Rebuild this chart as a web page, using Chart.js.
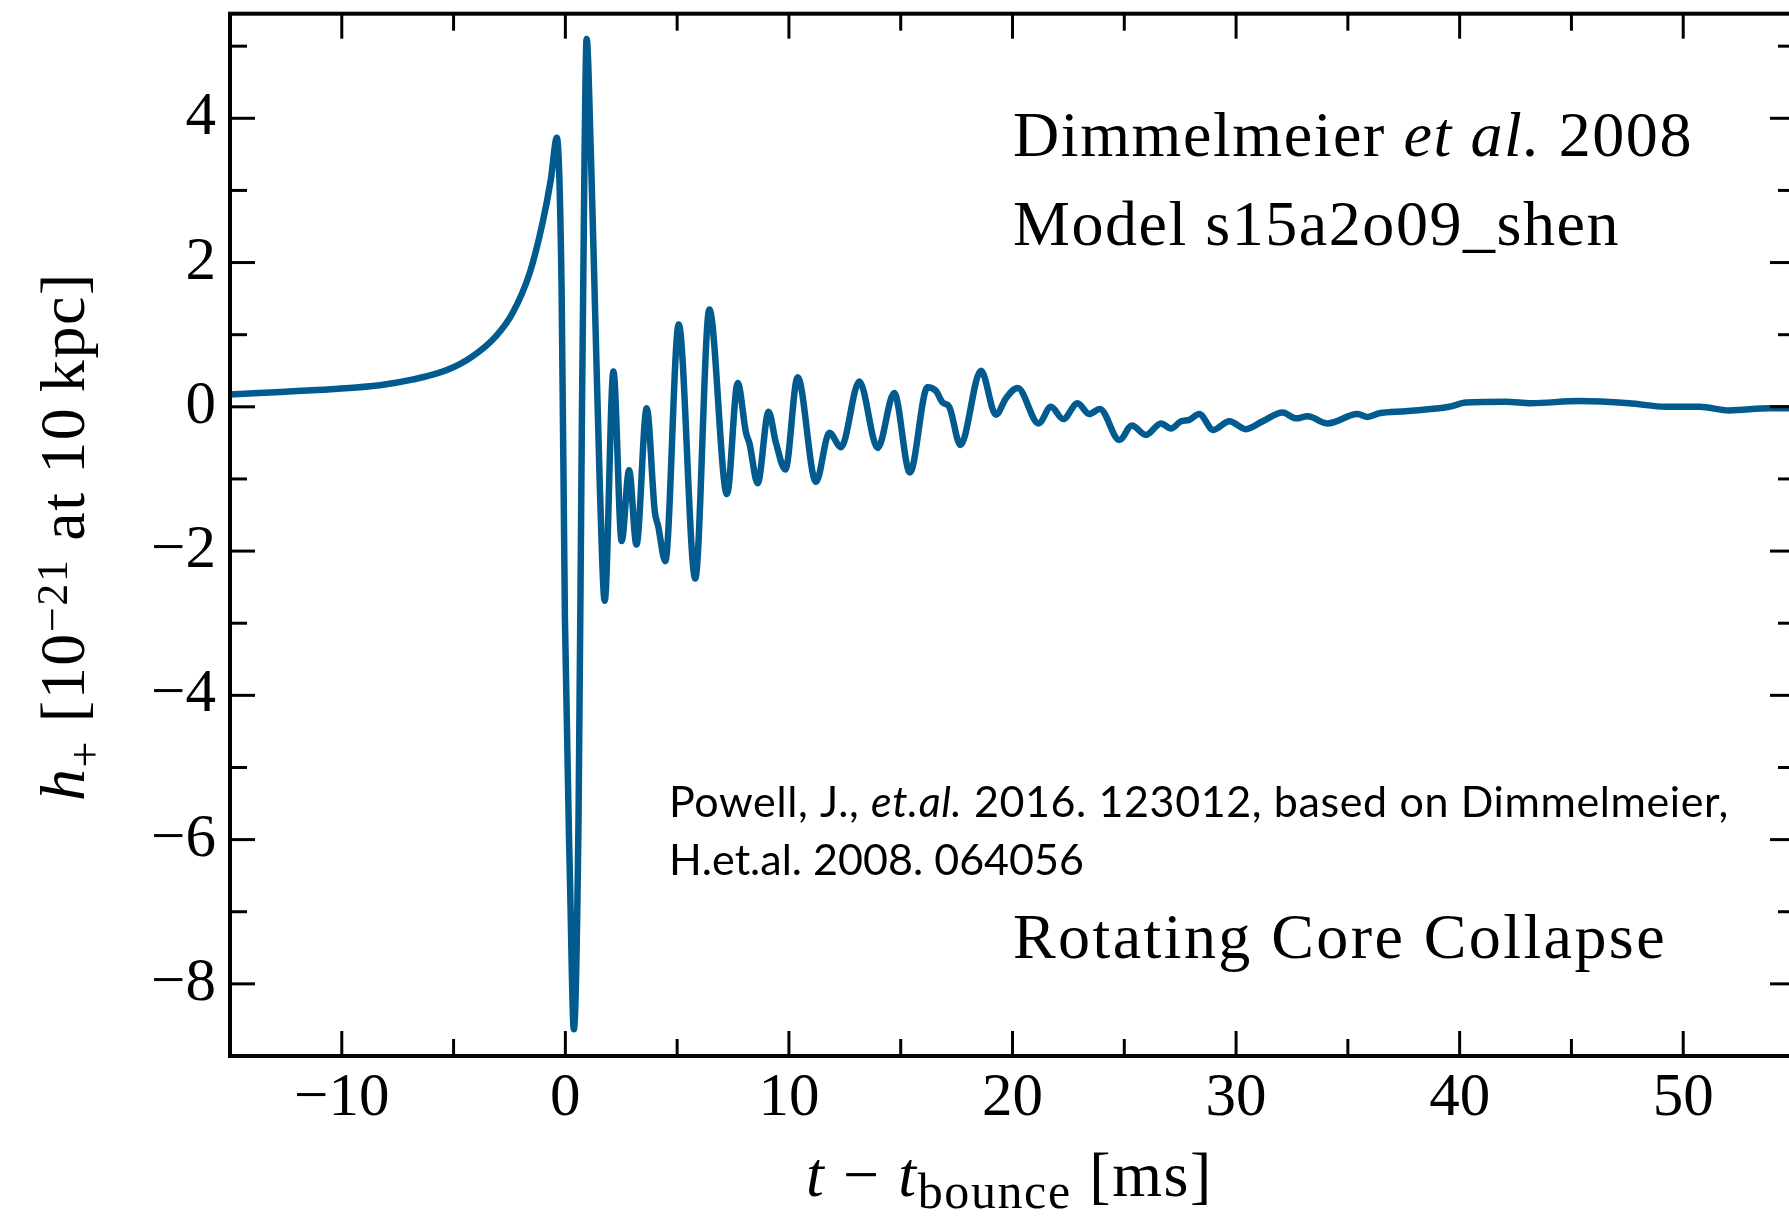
<!DOCTYPE html>
<html><head><meta charset="utf-8">
<script src="https://cdn.jsdelivr.net/npm/chart.js@4.4.1/dist/chart.umd.min.js"></script>
<style>
html,body{margin:0;padding:0;background:#fff;overflow:hidden;width:1789px;height:1220px;}
#wrap{position:absolute;left:0;top:0;width:1800px;height:1220px;}
</style></head><body>
<div id="wrap"><canvas id="c" width="1800" height="1220"></canvas></div>
<script>
// ---- data ----
const timeMs = [-15,-12.5,-10.5,-8.3,-6.8,-5.3,-4.15,-3.1,-2.36,-1.6,-1.02,-0.65,-0.38,
  -0.17,-0.02,0.21,0.38,0.59,0.74,0.86,0.95,1.14,1.34,1.54,1.76,2.15,2.52,2.85,3.18,3.64,4.0,4.15,4.47,
  5.07,5.81,6.44,7.23,7.71,8.08,8.23,8.6,9.09,9.42,9.84,10.39,11.21,11.81,12.33,13.15,13.97,14.71,15.41,
  16.2,16.58,16.87,17.17,17.67,18.59,19.26,19.71,20.23,21.17,21.72,22.27,22.91,23.43,23.91,24.78,25.34,
  25.97,26.64,27.09,27.54,27.91,28.35,28.98,29.7,30.44,31.19,32.08,32.68,33.2,34.09,35.43,35.88,36.4,
  37.6,39.53,40.28,42.07,43.19,45.35,47.58,49.23,50.72,52.06,53.85,55];
const strain = [0.17,0.21,0.245,0.3,0.38,0.51,0.7,0.98,1.3,1.85,2.55,3.15,3.73,
  1.68,-2.92,-6.6,-8.63,-5.68,-0.15,3.53,5.1,3.53,1.22,-1.08,-2.69,0.49,-1.86,-0.88,-1.91,-0.02,-1.45,-1.65,-2.14,
  1.14,-2.38,1.35,-1.21,0.33,-0.36,-0.5,-1.06,-0.07,-0.5,-0.87,0.41,-1.04,-0.36,-0.56,0.35,-0.57,0.19,-0.91,
  0.27,0.22,0.06,0.0,-0.53,0.5,-0.11,0.12,0.26,-0.23,0.0,-0.17,0.05,-0.1,-0.03,-0.46,-0.26,
  -0.39,-0.23,-0.3,-0.2,-0.18,-0.1,-0.32,-0.2,-0.31,-0.2,-0.08,-0.16,-0.13,-0.23,-0.1,-0.14,-0.09,
  -0.06,0.0,0.06,0.07,0.05,0.08,0.05,0.0,0.0,-0.05,-0.02,-0.02];
const xMajorTicks = [-10,0,10,20,30,40,50];
const xMinorTicks = [-5,5,15,25,35,45];
const yMajorTicks = [-8,-6,-4,-2,0,2,4];
const yMinorTicks = [-7,-5,-3,-1,1,3,5];
const xRange = [-15, 55];
const yRange = [-9, 5.45];

// ---- text ----
const SERIF = '"Liberation Serif","Times New Roman",serif';
const SANS = 'Lato,"Open Sans",sans-serif';
function fnt(p){ return (p.style||'') + ' ' + p.size + 'px ' + (p.family||SERIF); }
function drawParts(ctx, parts, x, y, target){
  let w = 0, n = 0;
  for (const p of parts){ ctx.font = fnt(p); ctx.letterSpacing = '0px'; w += ctx.measureText(p.t).width; n += [...p.t].length; }
  const ls = target ? (target - w) / n : 0;
  let cx = x;
  for (const p of parts){
    ctx.font = fnt(p); ctx.letterSpacing = ls + 'px';
    ctx.fillText(p.t, cx, y + (p.dy||0));
    cx += ctx.measureText(p.t).width;
  }
  ctx.letterSpacing = '0px';
}

const framePlugin = {
  id: 'frame',
  afterDatasetsDraw(chart){
    const {ctx, chartArea: a, scales: {x, y}} = chart;
    ctx.save();
    ctx.strokeStyle = '#000'; ctx.lineCap = 'butt';
    ctx.lineWidth = 3;
    const tick = (vals, len) => {
      for (const v of vals){
        const px = x.getPixelForValue(v);
        ctx.beginPath(); ctx.moveTo(px, a.bottom); ctx.lineTo(px, a.bottom - len); ctx.stroke();
        ctx.beginPath(); ctx.moveTo(px, a.top); ctx.lineTo(px, a.top + len); ctx.stroke();
      }
    };
    const ytick = (vals, len) => {
      for (const v of vals){
        const py = y.getPixelForValue(v);
        ctx.beginPath(); ctx.moveTo(a.left, py); ctx.lineTo(a.left + len, py); ctx.stroke();
        ctx.beginPath(); ctx.moveTo(a.right, py); ctx.lineTo(a.right - len, py); ctx.stroke();
      }
    };
    tick(xMajorTicks, 25); tick(xMinorTicks, 17);
    ytick(yMajorTicks, 25); ytick(yMinorTicks, 17);
    ctx.lineWidth = 4;
    ctx.strokeRect(a.left, a.top, a.right - a.left, a.bottom - a.top);

    ctx.fillStyle = '#000'; ctx.textBaseline = 'alphabetic'; ctx.textAlign = 'left';
    drawParts(ctx, [{t:'Dimmelmeier ', size:64},{t:'et al.', size:64, style:'italic'},{t:' 2008', size:64}], 1013, 156, 680);
    drawParts(ctx, [{t:'Model s15a2o09_shen', size:64}], 1013, 245, 607);
    drawParts(ctx, [{t:'Rotating Core Collapse', size:64}], 1013, 958, 654);
    drawParts(ctx, [{t:'Powell, J., ', size:43, family:SANS},{t:'et.al.', size:43, family:SANS, style:'italic'},{t:' 2016. 123012, based on Dimmelmeier,', size:43, family:SANS}], 669, 817, 1060);
    drawParts(ctx, [{t:'H.et.al. 2008. 064056', size:43, family:SANS}], 669, 875, 415);

    // x axis title
    drawParts(ctx, [{t:'t', size:64, style:'italic'},{t:' \u2212 ', size:64},{t:'t', size:64, style:'italic'},
      {t:'bounce', size:50, dy:12},{t:' [ms]', size:64}], 806, 1196, 407);
    // y axis title
    ctx.translate(84, 801); ctx.rotate(-Math.PI/2);
    drawParts(ctx, [{t:'h', size:64, style:'italic'},{t:'+', size:46, dy:16},{t:' [10', size:64},
      {t:'\u221221', size:44, dy:-17},{t:' at 10\u2009kpc]', size:64}], 0, 0, 529);
    ctx.restore();
  }
};

const points = timeMs.map((t, i) => ({x: t, y: strain[i]}));
new Chart(document.getElementById('c'), {
  type: 'line',
  data: { datasets: [{ data: points, borderColor: '#025b8e', borderWidth: 6.5, pointRadius: 0,
    cubicInterpolationMode: 'monotone', borderJoinStyle: 'round', borderCapStyle: 'round', fill: false }] },
  options: {
    responsive: false, devicePixelRatio: 1, animation: false,
    layout: { padding: { top: 13.7, right: 5, left: 0, bottom: 0 } },
    plugins: { legend: { display: false }, tooltip: { enabled: false } },
    scales: {
      x: { type: 'linear', min: xRange[0], max: xRange[1],
        grid: { display: false, drawTicks: false }, border: { display: false },
        afterBuildTicks: s => { s.ticks = xMajorTicks.map(v => ({value: v})); },
        afterFit: s => { s.height = 164; s.paddingLeft = 0; s.paddingRight = 0; },
        ticks: { padding: 6, maxRotation: 0, autoSkip: false, color: '#000',
          font: { family: SERIF, size: 61 },
          callback: v => v < 0 ? '\u2212' + Math.abs(v) : String(v) } },
      y: { type: 'linear', min: yRange[0], max: yRange[1],
        grid: { display: false, drawTicks: false }, border: { display: false },
        afterBuildTicks: s => { s.ticks = yMajorTicks.map(v => ({value: v})); },
        afterFit: s => { s.width = 230; s.paddingTop = 0; s.paddingBottom = 0; },
        ticks: { padding: 14, autoSkip: false, color: '#000',
          font: { family: SERIF, size: 61 },
          callback: v => v < 0 ? '\u2212' + Math.abs(v) : String(v) } }
    }
  },
  plugins: [framePlugin]
});
</script>
</body></html>
